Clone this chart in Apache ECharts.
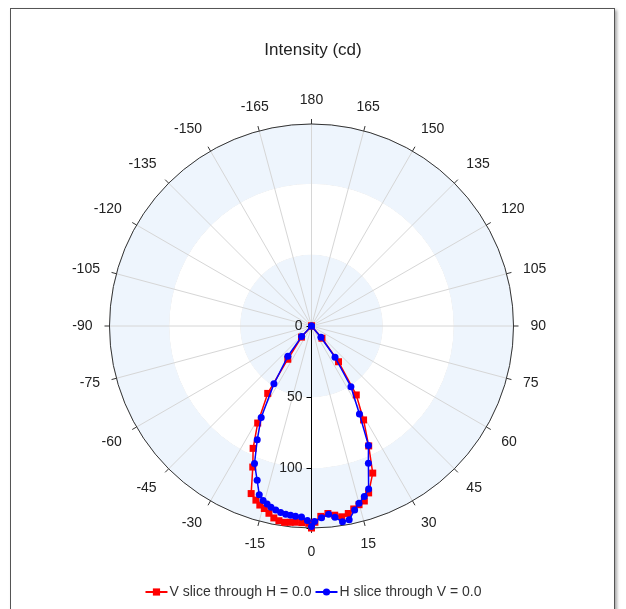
<!DOCTYPE html>
<html>
<head>
<meta charset="utf-8">
<script src="https://cdn.jsdelivr.net/npm/echarts@6/dist/echarts.min.js"></script>
<style>
html,body{margin:0;padding:0;background:#fff;width:626px;height:609px;overflow:hidden;}
#frame{position:absolute;left:10px;top:8px;width:603px;height:640px;border:1px solid #555;box-shadow:2px 2px 3px rgba(0,0,0,0.35);}
#chart{position:absolute;left:0;top:0;width:626px;height:609px;}
</style>
</head>
<body>
<div id="frame"></div>
<div id="chart"></div>
<script>
// ---- data ----
const titleText = 'Intensity (cd)';
const seriesNames = ['V slice through H = 0.0', 'H slice through V = 0.0'];

// V slice (red squares): angle in degrees (0 = down, + to the right), intensity in cd
const vAngles = [-90, -42, -35.5, -33, -29, -25.5, -22.6, -19.8, -17.7, -16.1, -14.5, -12.8, -11.1, -9.5, -7.8, -6.2, -4.7, -2.8, -0.8, 0, 1, 2.8, 5, 7, 9, 11.1, 13, 14.9, 16.8, 18.9, 22.6, 25.5, 29, 33, 37.1, 40.5, 90];
const vIntensity = [0, 10.5, 28.7, 56.5, 78, 95.3, 107.4, 125.2, 128.5, 131, 132.5, 135, 137.5, 138.8, 139.3, 138.8, 138.4, 138.4, 138.7, 142, 138, 134, 132.3, 134, 135.8, 134.3, 132, 130, 128.5, 124, 112, 93.4, 75.5, 57.8, 31.5, 11.3, 0];

// H slice (blue circles)
const hAngles = [-90, -43, -38, -33, -28.8, -25.5, -22.5, -19.4, -17.2, -15.5, -14, -12.6, -11, -9.4, -7.8, -6.3, -4.8, -3, -1.2, 0, 0.9, 3, 5.2, 7, 9, 11, 13.2, 15, 17.2, 19.3, 22.5, 25.5, 28.6, 33, 37, 39.8, 90];
const hIntensity = [0, 10.2, 27, 48.5, 73.4, 88.6, 104.7, 115, 124.2, 127.3, 129, 130.6, 131.8, 132.8, 133.5, 133.8, 134.2, 134.4, 136.8, 141, 137.5, 135, 132.8, 135.5, 139.3, 138.8, 132.8, 129, 125.5, 121.5, 104.5, 93, 70.4, 50.9, 27.5, 10.3, 0];

const angleTickStep = 15;
const radiusTickStep = 50;
const radiusMax = 142;

// ---- chart ----
const FONT = '"Liberation Sans", Arial, sans-serif';
const toAxisAngle = a => (a < 0 ? a + 360 : a);
const buildSeries = (angles, values) => angles.map((a, i) => [values[i], toAxisAngle(a)]);

const chart = echarts.init(document.getElementById('chart'), null, {renderer: 'canvas'});
chart.setOption({
  animation: false,
  backgroundColor: 'transparent',
  title: {
    text: titleText,
    left: 'center',
    top: 37,
    textStyle: {fontSize: 17, fontWeight: 'normal', color: '#222', fontFamily: FONT}
  },
  legend: {
    top: 580,
    left: 'center',
    itemWidth: 22,
    itemHeight: 9,
    itemGap: 3,
    textStyle: {fontSize: 14, color: '#333', fontFamily: FONT, padding: [0, 0, 0, -3]},
    data: seriesNames
  },
  polar: {center: [311.5, 326], radius: 202},
  angleAxis: {
    type: 'value',
    min: 0,
    max: 360,
    interval: angleTickStep,
    startAngle: -90,
    clockwise: false,
    axisLine: {show: true, lineStyle: {color: '#333', width: 1}},
    axisTick: {show: true, length: 5, lineStyle: {color: '#333'}},
    axisLabel: {
      margin: 17,
      fontSize: 14,
      color: '#222',
      fontFamily: FONT,
      formatter: v => (v === 360 ? '' : String(v > 180 ? v - 360 : v))
    },
    splitLine: {show: true, lineStyle: {color: '#d6d6d6', width: 1}},
    splitArea: {show: false}
  },
  radiusAxis: {
    type: 'value',
    min: 0,
    max: radiusMax,
    interval: radiusTickStep,
    axisLine: {show: true, lineStyle: {color: '#000', width: 1}},
    axisTick: {show: true, length: -5, lineStyle: {color: '#000'}},
    axisLabel: {
      fontSize: 14,
      color: '#222',
      fontFamily: FONT,
      margin: -9,
      align: 'right',
      formatter: v => (v % radiusTickStep === 0 ? String(v) : '')
    },
    splitLine: {show: true, lineStyle: {color: '#d6d6d6', width: 1}},
    splitArea: {show: true, areaStyle: {color: ['#EEF5FD', '#ffffff']}}
  },
  series: [
    {
      name: seriesNames[0],
      type: 'line',
      coordinateSystem: 'polar',
      data: buildSeries(vAngles, vIntensity),
      symbol: 'rect',
      symbolSize: 7,
      itemStyle: {color: '#ff0000'},
      lineStyle: {color: '#ff0000', width: 1.5},
      z: 3
    },
    {
      name: seriesNames[1],
      type: 'line',
      coordinateSystem: 'polar',
      data: buildSeries(hAngles, hIntensity),
      symbol: 'circle',
      symbolSize: 7,
      itemStyle: {color: '#0000ff'},
      lineStyle: {color: '#0000ff', width: 1.5},
      z: 4
    }
  ]
});
</script>
</body>
</html>
